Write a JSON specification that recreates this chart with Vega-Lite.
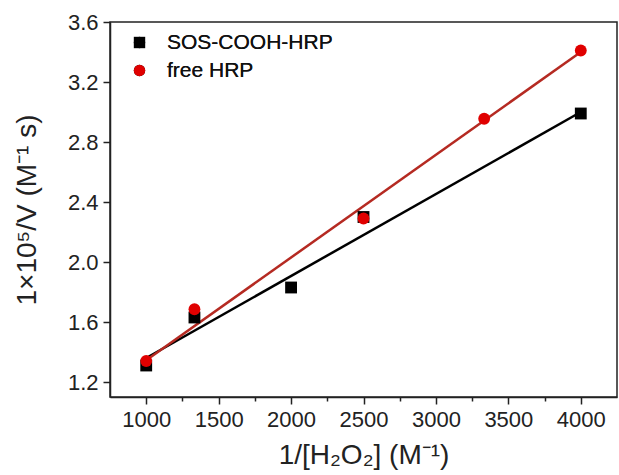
{
  "$schema": "https://vega.github.io/schema/vega-lite/v6.json",
  "width": 507,
  "height": 375,
  "autosize": {"type": "none"},
  "padding": {"left": 110, "top": 22, "right": 2, "bottom": 78},
  "background": "white",
  "config": {
    "font": "Liberation Sans",
    "view": {"stroke": "#222222", "strokeWidth": 1.5}
  },
  "datasets": {
    "points": [
      {"x": 1000, "y": 1.31, "series": "SOS-COOH-HRP"},
      {"x": 1333, "y": 1.63, "series": "SOS-COOH-HRP"},
      {"x": 2000, "y": 1.83, "series": "SOS-COOH-HRP"},
      {"x": 2500, "y": 2.30, "series": "SOS-COOH-HRP"},
      {"x": 4000, "y": 2.99, "series": "SOS-COOH-HRP"},
      {"x": 1000, "y": 1.34, "series": "free HRP"},
      {"x": 1333, "y": 1.685, "series": "free HRP"},
      {"x": 2500, "y": 2.29, "series": "free HRP"},
      {"x": 3333, "y": 2.955, "series": "free HRP"},
      {"x": 4000, "y": 3.41, "series": "free HRP"}
    ],
    "fits": [
      {"x": 1000, "y": 1.36, "series": "SOS-COOH-HRP"},
      {"x": 4000, "y": 3.0, "series": "SOS-COOH-HRP"},
      {"x": 1000, "y": 1.345, "series": "free HRP"},
      {"x": 4000, "y": 3.40, "series": "free HRP"}
    ]
  },
  "layer": [
    {
      "data": {"name": "fits"},
      "mark": {"type": "line", "strokeWidth": 2.5},
      "encoding": {
        "x": {"field": "x", "type": "quantitative"},
        "y": {"field": "y", "type": "quantitative"},
        "detail": {"field": "series"},
        "color": {
          "field": "series", "type": "nominal",
          "scale": {"domain": ["SOS-COOH-HRP", "free HRP"], "range": ["#000000", "#b52a22"]},
          "legend": null
        }
      }
    },
    {
      "data": {"name": "points"},
      "mark": {"type": "point", "filled": true, "opacity": 1, "size": 140},
      "encoding": {
        "x": {
          "field": "x", "type": "quantitative",
          "scale": {"domain": [750, 4250], "nice": false, "zero": false},
          "axis": {
            "title": "1/[H₂O₂] (M⁻¹)",
            "titleFontSize": 28, "titleFontWeight": "normal", "titleColor": "#222222", "titlePadding": 11,
            "values": [1000, 1250, 1500, 1750, 2000, 2250, 2500, 2750, 3000, 3250, 3500, 3750, 4000],
            "labelExpr": "round(datum.value / 250) % 2 === 0 ? format(datum.value, 'd') : ''",
            "labelOverlap": false,
            "labelFontSize": 22, "labelColor": "#222222", "labelPadding": 5,
            "labelFlush": false,
            "grid": false,
            "domainColor": "#222222", "domainWidth": 1.5,
            "tickColor": "#222222", "tickWidth": 1.5,
            "tickSize": {"condition": {"test": "round(datum.value / 250) % 2 === 0", "value": 7}, "value": 4}
          }
        },
        "y": {
          "field": "y", "type": "quantitative",
          "scale": {"domain": [1.1, 3.6], "nice": false, "zero": false},
          "axis": {
            "title": "1×10⁵/V (M⁻¹ s)",
            "titleFontSize": 28, "titleFontWeight": "normal", "titleColor": "#222222", "titlePadding": 26,
            "values": [1.2, 1.4, 1.6, 1.8, 2.0, 2.2, 2.4, 2.6, 2.8, 3.0, 3.2, 3.4, 3.6],
            "labelExpr": "round(datum.value * 10) % 4 === 0 ? format(datum.value, '.1f') : ''",
            "labelOverlap": false,
            "labelFontSize": 22, "labelColor": "#222222", "labelPadding": 5,
            "labelFlush": false,
            "grid": false,
            "domainColor": "#222222", "domainWidth": 1.5,
            "tickColor": "#222222", "tickWidth": 1.5,
            "tickSize": {"condition": {"test": "round(datum.value * 10) % 4 === 0", "value": 7}, "value": 4}
          }
        },
        "shape": {
          "field": "series", "type": "nominal",
          "scale": {"domain": ["SOS-COOH-HRP", "free HRP"], "range": ["square", "circle"]},
          "legend": {
            "title": null, "orient": "none", "legendX": 19, "legendY": 10,
            "labelFontSize": 21, "labelColor": "#111111", "labelOffset": 17, "labelLimit": 400,
            "symbolSize": 130, "rowPadding": 6, "padding": 0,
            "symbolStrokeWidth": 0
          }
        },
        "color": {
          "field": "series", "type": "nominal",
          "scale": {"domain": ["SOS-COOH-HRP", "free HRP"], "range": ["#000000", "#e00000"]},
          "legend": {
            "title": null, "orient": "none", "legendX": 19, "legendY": 10,
            "labelFontSize": 21, "labelColor": "#111111", "labelOffset": 17, "labelLimit": 400,
            "symbolSize": 130, "rowPadding": 6, "padding": 0,
            "symbolStrokeWidth": 0
          }
        }
      }
    }
  ],
  "resolve": {"scale": {"color": "independent"}}
}
